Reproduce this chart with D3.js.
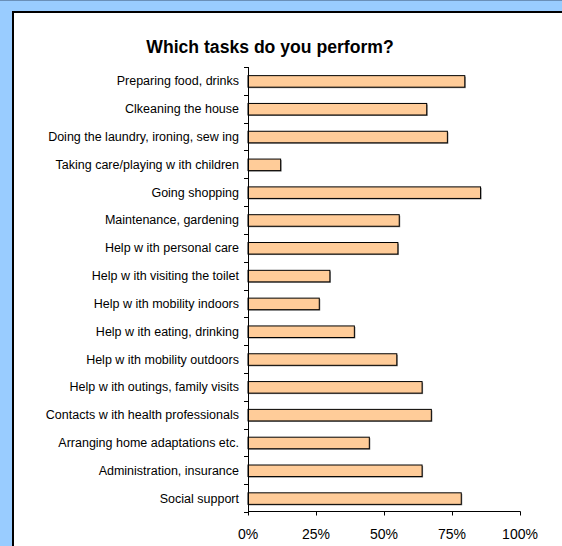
<!DOCTYPE html>
<html><head><meta charset="utf-8">
<script src="https://cdn.jsdelivr.net/npm/d3@7"></script>
<style>body{margin:0;background:#fff;}svg{display:block;font-family:"Liberation Sans",Arial,sans-serif;}</style>
</head><body>
<svg id="c" width="562" height="546"></svg>
<script>
const title = "Which tasks do you perform?";
const categories = [
  "Preparing food, drinks",
  "Clkeaning the house",
  "Doing the laundry, ironing, sew ing",
  "Taking care/playing w ith children",
  "Going shopping",
  "Maintenance, gardening",
  "Help w ith personal care",
  "Help w ith visiting the toilet",
  "Help w ith mobility indoors",
  "Help w ith eating, drinking",
  "Help w ith mobility outdoors",
  "Help w ith outings, family visits",
  "Contacts w ith health professionals",
  "Arranging home adaptations etc.",
  "Administration, insurance",
  "Social support"
];
const values = [0.797, 0.657, 0.733, 0.12, 0.855, 0.556, 0.551, 0.301, 0.262, 0.391, 0.547, 0.64, 0.674, 0.446, 0.64, 0.784];
const xTicks = [0, 0.25, 0.5, 0.75, 1];

const svg = d3.select("#c");
// background
svg.append("rect").attr("x",0).attr("y",0).attr("width",562).attr("height",546).attr("fill","#99CCFF");
svg.append("line").attr("x1",0).attr("x2",562).attr("y1",0.5).attr("y2",0.5).attr("stroke","#6a8fb8").attr("stroke-width",1);
svg.append("rect").attr("x",13).attr("y",12).attr("width",560).attr("height",560).attr("fill","#fff").attr("stroke","#000").attr("stroke-width",2);

svg.append("text").attr("x",270).attr("y",53).attr("text-anchor","middle")
  .attr("font-weight","bold").attr("font-size",17.6).attr("fill","#000").text(title);

const x = d3.scaleLinear().domain([0,1]).range([248,520]);
const y = d3.scaleBand().domain(categories).range([67,512]).paddingInner(0.585).paddingOuter(0.2925);

// bars shadow
const g = svg.append("g");
g.selectAll("rect.sh").data(values).join("rect")
  .attr("x", x(0)+1).attr("y",(d,i)=>y(categories[i])+1.5)
  .attr("width",d=>x(d)-x(0)).attr("height",y.bandwidth())
  .attr("fill","#808080");
g.selectAll("rect.bar").data(values).join("rect")
  .attr("x", x(0)).attr("y",(d,i)=>y(categories[i])+0.5)
  .attr("width",d=>x(d)-x(0)).attr("height",y.bandwidth())
  .attr("fill","#FFCC99").attr("stroke","#000").attr("stroke-width",1);

// category axis
const yAxis = svg.append("g");
yAxis.append("line").attr("x1",248.5).attr("x2",248.5).attr("y1",67).attr("y2",512).attr("stroke","#000");
const bounds = d3.range(categories.length+1).map(i=>67 + i*(512-67)/categories.length);
yAxis.selectAll("line.t").data(bounds).join("line")
  .attr("x1",244).attr("x2",248.5).attr("y1",d=>Math.round(d)+0.5).attr("y2",d=>Math.round(d)+0.5).attr("stroke","#000");
yAxis.selectAll("text").data(categories).join("text")
  .attr("x",239).attr("y",d=>y(d)+y.bandwidth()/2+4.5).attr("text-anchor","end")
  .attr("font-size",12.5).attr("fill","#000").text(d=>d);

// x axis
const xAxis = svg.append("g").attr("transform","translate(0,511.5)");
xAxis.append("line").attr("x1",248).attr("x2",520.5).attr("y1",0).attr("y2",0).attr("stroke","#000");
xAxis.selectAll("line.t").data(xTicks).join("line")
  .attr("x1",d=>Math.round(x(d))+0.5).attr("x2",d=>Math.round(x(d))+0.5).attr("y1",0).attr("y2",4).attr("stroke","#000");
xAxis.selectAll("text").data(xTicks).join("text")
  .attr("x",d=>x(d)).attr("y",27).attr("text-anchor","middle")
  .attr("font-size",14).attr("fill","#000").text(d3.format(".0%"));
</script>
</body></html>
